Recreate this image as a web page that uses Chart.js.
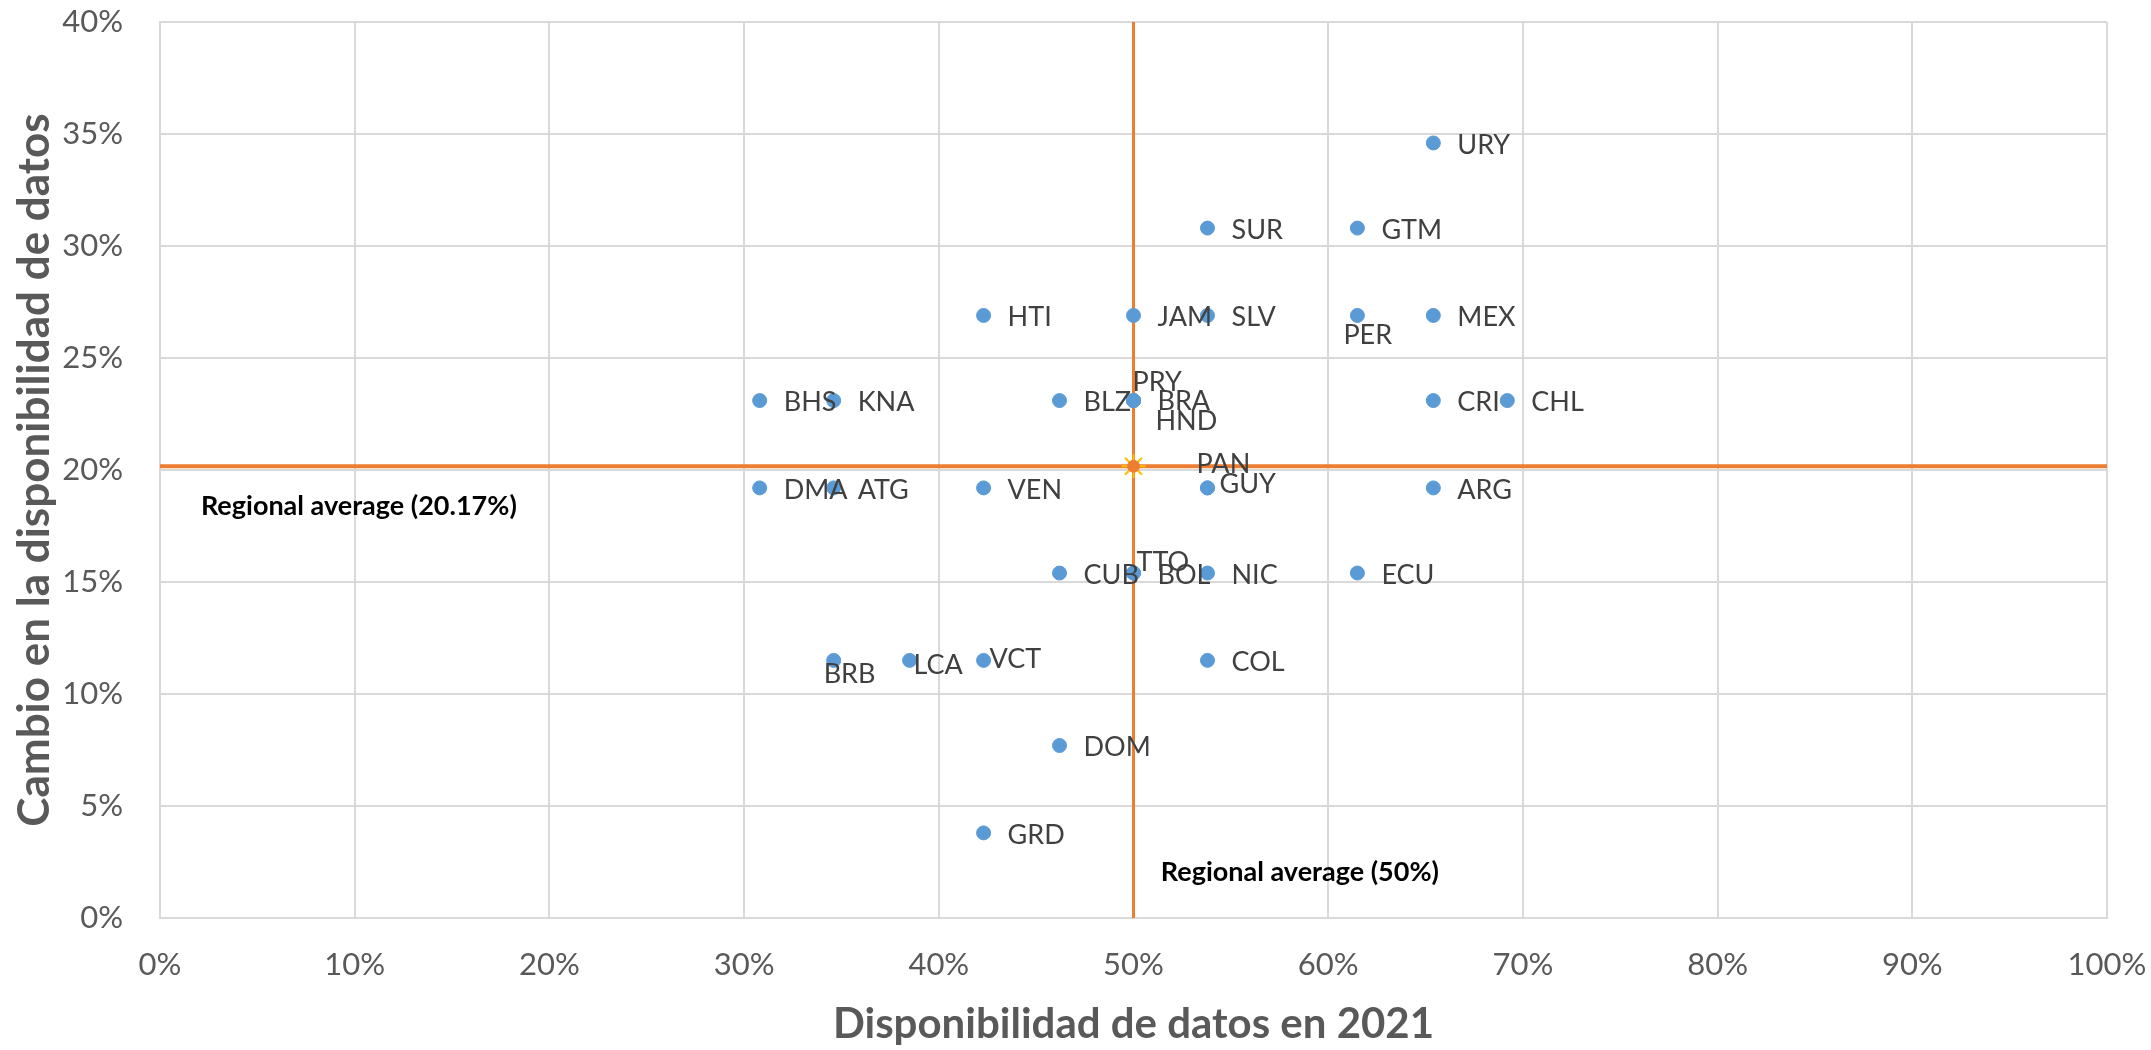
<!DOCTYPE html>
<html>
<head>
<meta charset="utf-8">
<script src="https://cdn.jsdelivr.net/npm/chart.js@4.4.0/dist/chart.umd.min.js"></script>
<style>
  html, body { margin: 0; padding: 0; background: #fff; }
  #wrap { width: 2151px; height: 1050px; }
</style>
</head>
<body>
<div id="wrap"><canvas id="chart"></canvas></div>
<script>
// Country codes and values
const countries = ['URY', 'SUR', 'GTM', 'HTI', 'JAM', 'SLV', 'PER', 'MEX',
  'BHS', 'KNA', 'BLZ', 'PRY', 'BRA', 'HND', 'CRI', 'CHL',
  'DMA', 'ATG', 'VEN', 'GUY', 'PAN', 'ARG',
  'CUB', 'TTO', 'BOL', 'NIC', 'ECU',
  'BRB', 'LCA', 'VCT', 'COL', 'DOM', 'GRD'];
const availability2021 = [0.654, 0.538, 0.615, 0.423, 0.500, 0.538, 0.615, 0.654,
  0.308, 0.346, 0.462, 0.500, 0.500, 0.500, 0.654, 0.692,
  0.308, 0.346, 0.423, 0.538, 0.538, 0.654,
  0.462, 0.500, 0.500, 0.538, 0.615,
  0.346, 0.385, 0.423, 0.538, 0.462, 0.423];
const changeInAvailability = [0.346, 0.308, 0.308, 0.269, 0.269, 0.269, 0.269, 0.269,
  0.231, 0.231, 0.231, 0.231, 0.231, 0.231, 0.231, 0.231,
  0.192, 0.192, 0.192, 0.192, 0.192, 0.192,
  0.154, 0.154, 0.154, 0.154, 0.154,
  0.115, 0.115, 0.115, 0.115, 0.077, 0.038];

const avgAvailability = 0.50;
const avgChange = 0.2017;
const avgChangeLabel = 'Regional average (20.17%)';
const avgAvailabilityLabel = 'Regional average (50%)';

// label offsets (px) where Excel moved them away from the default right side
const labelShift = {
  PER: [-14, 20], BRB: [-10, 14], LCA: [4, 5], VCT: [6, -1],
  PRY: [-1, -18], BRA: [24, 1], HND: [22, 21],
  PAN: [-11, -24], GUY: [12, -4], TTO: [3, -11], BOL: [24, 2]
};

const points = countries.map((c, i) => ({ x: availability2021[i], y: changeInAvailability[i] }));

const labelPlugin = {
  id: 'labels',
  afterDatasetsDraw(chart) {
    const ctx = chart.ctx;
    const meta = chart.getDatasetMeta(0);
    ctx.save();
    ctx.font = '27px Lato';
    ctx.fillStyle = '#404040';
    ctx.textAlign = 'left';
    ctx.textBaseline = 'middle';
    meta.data.forEach((pt, i) => {
      const s = labelShift[countries[i]] || [24, 2];
      ctx.fillText(countries[i], pt.x + s[0], pt.y + s[1]);
    });
    // average annotations
    const xs = chart.scales.x, ys = chart.scales.y;
    ctx.font = 'bold 27px Lato';
    ctx.fillStyle = '#000';
    ctx.fillText(avgChangeLabel, xs.getPixelForValue(0.021), ys.getPixelForValue(0.184));
    ctx.fillText(avgAvailabilityLabel, xs.getPixelForValue(0.514), ys.getPixelForValue(0.0205));
    ctx.restore();
  }
};

new Chart(document.getElementById('chart'), {
  type: 'scatter',
  data: {
    datasets: [
      {
        data: points,
        backgroundColor: '#5B9BD5',
        borderColor: '#5B9BD5',
        pointRadius: 7,
        pointHoverRadius: 7
      },
      {
        data: [{ x: avgAvailability, y: avgChange }],
        pointStyle: 'circle',
        backgroundColor: '#ED7D31',
        borderColor: '#ED7D31',
        pointRadius: 6
      },
      {
        data: [{ x: avgAvailability, y: avgChange }],
        pointStyle: 'star',
        borderColor: '#FFC000',
        borderWidth: 2,
        pointRadius: 12
      },
      {
        type: 'line',
        data: [{ x: 0, y: avgChange }, { x: 1, y: avgChange }],
        borderColor: '#ED7D31',
        borderWidth: 4,
        pointRadius: 0,
        clip: false
      },
      {
        type: 'line',
        data: [{ x: avgAvailability, y: 0 }, { x: avgAvailability, y: 0.4 }],
        borderColor: '#ED7D31',
        borderWidth: 3,
        pointRadius: 0,
        clip: false
      }
    ]
  },
  options: {
    responsive: true,
    maintainAspectRatio: false,
    animation: false,
    layout: { padding: { top: 22, right: 44, left: 0, bottom: 0 } },
    plugins: {
      legend: { display: false },
      tooltip: { enabled: false }
    },
    scales: {
      x: {
        type: 'linear',
        min: 0,
        max: 1,
        ticks: {
          stepSize: 0.1,
          padding: 28,
          color: '#595959',
          font: { family: 'Lato', size: 31 },
          callback: v => Math.round(v * 100) + '%'
        },
        grid: { color: '#D9D9D9', lineWidth: 2, drawTicks: false },
        border: { color: '#D9D9D9', width: 2 },
        title: {
          display: true,
          text: 'Disponibilidad de datos en 2021',
          color: '#595959',
          font: { family: 'Lato', size: 42, weight: 'bold' },
          padding: { top: 0, bottom: 0 }
        },
        afterFit(scale) {
          scale.height = 132;
          scale.paddingLeft = 0;
          scale.paddingRight = 0;
        }
      },
      y: {
        type: 'linear',
        min: 0,
        max: 0.4,
        ticks: {
          stepSize: 0.05,
          padding: 37,
          color: '#595959',
          font: { family: 'Lato', size: 31 },
          callback: v => Math.round(v * 100) + '%'
        },
        grid: { color: '#D9D9D9', lineWidth: 2, drawTicks: false },
        border: { color: '#D9D9D9', width: 2 },
        title: {
          display: true,
          text: 'Cambio en la disponibilidad de datos',
          color: '#595959',
          font: { family: 'Lato', size: 44, weight: 'bold' },
          padding: { top: 8, bottom: 0 }
        },
        afterFit(scale) {
          scale.width = 160;
          scale.paddingTop = 0;
          scale.paddingBottom = 0;
        }
      }
    }
  },
  plugins: [labelPlugin]
});
</script>
</body>
</html>
